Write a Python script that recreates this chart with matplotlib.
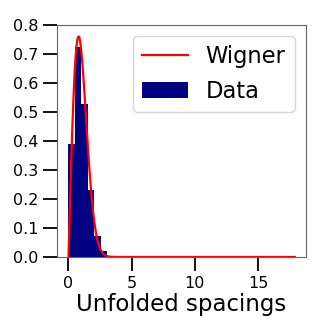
import numpy as np
import matplotlib
matplotlib.use("Agg")
import matplotlib.pyplot as plt

# histogram of unfolded spacings (density)
BIN_EDGES = [0.0, 0.51, 1.02, 1.53, 2.04, 2.55, 3.06]
DENSITY = [0.39, 0.725, 0.528, 0.232, 0.071, 0.019]

S_MAX = 17.9  # largest spacing, end of the Wigner curve

s = np.linspace(0, S_MAX, 600)
wigner = np.pi / 2 * s * np.exp(-np.pi * s ** 2 / 4)  # GOE Wigner surmise

fig = plt.figure(figsize=(3.32, 3.32), dpi=100)
ax = fig.add_axes([0.172, 0.226, 0.75, 0.699])

widths = np.diff(BIN_EDGES)
ax.bar(BIN_EDGES[:-1], DENSITY, width=widths, align="edge",
       color="navy", label="Data", zorder=2)
ax.plot(s, wigner, color="red", lw=1.6, label="Wigner", zorder=3)

ax.set_xlim(-0.9, 18.8)
ax.set_ylim(0, 0.8)
ax.set_xticks([0, 5, 10, 15])
ax.set_yticks(np.arange(0, 0.81, 0.1))
ax.set_yticklabels([f"{v:.1f}" for v in np.arange(0, 0.81, 0.1)])
ax.tick_params(axis="both", labelsize=11.5, length=10, width=1.3, color="black")
for sp in ax.spines.values():
    sp.set_color("0.4")
    sp.set_linewidth(0.8)

ax.set_xlabel("Unfolded spacings", fontsize=16.5, labelpad=2)
ax.legend(loc="upper right", fontsize=16.3, framealpha=0.8)

fig.savefig("out.png", dpi=100)
